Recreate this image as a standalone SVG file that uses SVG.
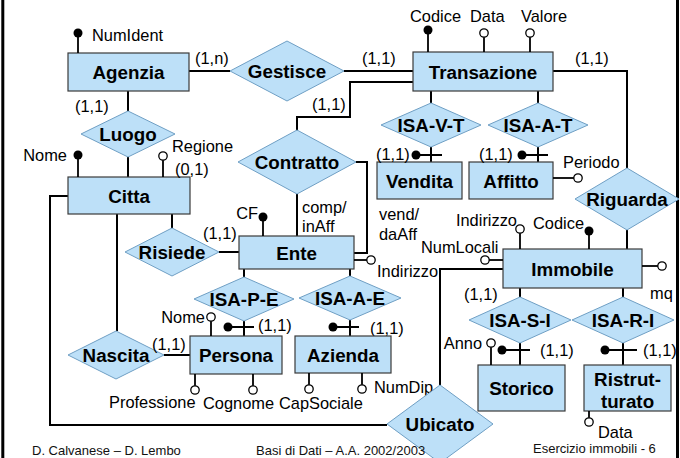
<svg xmlns="http://www.w3.org/2000/svg" width="680" height="458" viewBox="0 0 680 458">
<style>
.ent{fill:#bde0f8;stroke:#3a3a3a;stroke-width:1.2}
.rel{fill:#bde0f8;stroke:#6f9fc4;stroke-width:1}
.ln{fill:none;stroke:#000;stroke-width:2}
.al{fill:none;stroke:#000;stroke-width:1.8}
.fd{fill:#000}
.hd{fill:#fff;stroke:#000;stroke-width:1.3}
.b{font-family:"Liberation Sans",Arial,sans-serif;font-weight:bold;font-size:18.8px;text-anchor:middle;fill:#000}
.t{font-family:"Liberation Sans",Arial,sans-serif;font-size:16.4px;fill:#000}
.e{text-anchor:end}
.f{font-family:"Liberation Sans",Arial,sans-serif;font-size:13px;fill:#111}
</style>
<rect width="680" height="458" fill="#fff"/>
<line x1="2.8" y1="0" x2="2.8" y2="458" stroke="#000" stroke-width="3"/>
<line x1="677.5" y1="0" x2="677.5" y2="458" stroke="#000" stroke-width="3"/>

<g id="connectors">
<path class="ln" d="M189,71 H230"/>
<path class="ln" d="M344,71 H413"/>
<path class="ln" d="M413,82 H350 V117 H297 V131"/>
<path class="ln" d="M553,71 H627 V168"/>
<path class="ln" d="M627,230 V249"/>
<path class="ln" d="M128,91 V111"/>
<path class="ln" d="M128,157 V177"/>
<path class="ln" d="M172,214 V228"/>
<path class="ln" d="M117,214 V331"/>
<path class="ln" d="M68,196 H50 V425 H387"/>
<path class="ln" d="M219,252 H239"/>
<path class="ln" d="M297,194 V236"/>
<path class="ln" d="M356,162 H367 V253 H354"/>
<path class="ln" d="M440,385 V269 H503"/>
<path class="ln" d="M244,269 V277"/>
<path class="ln" d="M244,321 V336"/>
<path class="ln" d="M350,269 V276"/>
<path class="ln" d="M350,320 V336"/>
<path class="ln" d="M164,355 H190"/>
<path class="ln" d="M431,91 V103"/>
<path class="ln" d="M431,147 V162"/>
<path class="ln" d="M538,91 V103"/>
<path class="ln" d="M538,147 V162"/>
<path class="ln" d="M520,288 V297"/>
<path class="ln" d="M520,343 V365"/>
<path class="ln" d="M623,288 V297"/>
<path class="ln" d="M623,343 V365"/>
<path class="ln" d="M416,155 H442"/><circle class="fd" cx="416" cy="155" r="4.5"/>
<path class="ln" d="M522,155 H548"/><circle class="fd" cx="522" cy="155" r="4.5"/>
<path class="ln" d="M228,327 H254"/><circle class="fd" cx="228" cy="327" r="4.5"/>
<path class="ln" d="M333,327 H359"/><circle class="fd" cx="333" cy="327" r="4.5"/>
<path class="ln" d="M502,350 H530"/><circle class="fd" cx="502" cy="350" r="4.5"/>
<path class="ln" d="M605,350 H637"/><circle class="fd" cx="605" cy="350" r="4.5"/>
</g>

<g id="Agenzia">
<rect class="ent" x="68" y="53" width="121" height="38"/>
<text class="b" x="128.5" y="78.5">Agenzia</text>
<path class="al" d="M78,53 V34"/><circle class="fd" cx="78" cy="33" r="4.5"/>
<text class="t" x="92" y="41">NumIdent</text>
</g>

<g id="Transazione">
<rect class="ent" x="413" y="52" width="140" height="39"/>
<text class="b" x="483" y="78.5">Transazione</text>
<path class="al" d="M428,52 V31"/><circle class="fd" cx="428" cy="30" r="4.5"/>
<path class="al" d="M484,52 V37"/><circle class="hd" cx="484" cy="33" r="4.2"/>
<path class="al" d="M530,52 V37"/><circle class="hd" cx="530" cy="33" r="4.2"/>
<text class="t" x="410" y="22">Codice</text>
<text class="t" x="470" y="22">Data</text>
<text class="t" x="521" y="22">Valore</text>
</g>

<g id="Gestisce">
<polygon class="rel" points="230,71 287,41 344,71 287,101"/>
<text class="b" x="287" y="78">Gestisce</text>
<text class="t" x="195" y="64">(1,n)</text>
<text class="t" x="362" y="64">(1,1)</text>
</g>

<g id="Luogo">
<polygon class="rel" points="81,134 128,111 175,134 128,157"/>
<text class="b" x="128" y="141">Luogo</text>
<text class="t" x="75" y="112">(1,1)</text>
</g>

<g id="Citta">
<rect class="ent" x="68" y="177" width="122" height="37"/>
<text class="b" x="129" y="202.5">Citta</text>
<path class="al" d="M78,177 V156"/><circle class="fd" cx="78" cy="155" r="4.5"/>
<text class="t e" x="67" y="161">Nome</text>
<path class="al" d="M163,177 V160"/><circle class="hd" cx="163" cy="156" r="4.2"/>
<text class="t" x="172" y="152">Regione</text>
<text class="t" x="175" y="175">(0,1)</text>
</g>

<g id="Contratto">
<polygon class="rel" points="238,162 297,130 356,162 297,194"/>
<text class="b" x="297" y="169">Contratto</text>
<text class="t" x="312" y="110">(1,1)</text>
<text class="t" x="302" y="213">comp/</text>
<text class="t" x="302" y="232">inAff</text>
<text class="t" x="379" y="220">vend/</text>
<text class="t" x="379" y="240">daAff</text>
</g>

<g id="ISA-V-T">
<polygon class="rel" points="381,125 431,103 481,125 431,147"/>
<text class="b" x="431" y="132">ISA-V-T</text>
</g>

<g id="ISA-A-T">
<polygon class="rel" points="488,125 538,103 588,125 538,147"/>
<text class="b" x="538" y="132">ISA-A-T</text>
</g>

<g id="Vendita">
<rect class="ent" x="377" y="162" width="85" height="37"/>
<text class="b" x="419.5" y="187.5">Vendita</text>
<text class="t" x="376" y="160">(1,1)</text>
</g>

<g id="Affitto">
<rect class="ent" x="469" y="162" width="84" height="37"/>
<text class="b" x="511" y="187.5">Affitto</text>
<text class="t" x="479" y="160">(1,1)</text>
<path class="al" d="M553,178 H574"/><circle class="hd" cx="578" cy="178" r="4.2"/>
<text class="t" x="563" y="168">Periodo</text>
</g>

<g id="Riguarda">
<polygon class="rel" points="575,199 627,168 679,199 627,230"/>
<text class="b" x="627" y="206">Riguarda</text>
<text class="t" x="575" y="64">(1,1)</text>
</g>

<g id="Risiede">
<polygon class="rel" points="125,252 172,228 219,252 172,276"/>
<text class="b" x="172" y="259">Risiede</text>
<text class="t" x="203" y="239">(1,1)</text>
</g>

<g id="Ente">
<rect class="ent" x="239" y="236" width="115" height="33"/>
<text class="b" x="296.5" y="259.5">Ente</text>
<path class="al" d="M263,236 V218"/><circle class="fd" cx="263" cy="217" r="4.5"/>
<text class="t e" x="258" y="219">CF</text>
<path class="al" d="M354,260 H367"/><circle class="hd" cx="371" cy="260" r="4.2"/>
<text class="t" x="377" y="277">Indirizzo</text>
</g>

<g id="Immobile">
<rect class="ent" x="503" y="249" width="139" height="39"/>
<text class="b" x="572.5" y="275.5">Immobile</text>
<path class="al" d="M520,249 V233"/><circle class="hd" cx="520" cy="229" r="4.2"/>
<text class="t e" x="517" y="226">Indirizzo</text>
<path class="al" d="M589,249 V232"/><circle class="fd" cx="589" cy="231" r="4.5"/>
<text class="t" x="533" y="229">Codice</text>
<path class="al" d="M503,260 H489"/><circle class="hd" cx="485" cy="260" r="4.2"/>
<text class="t" x="421" y="253">NumLocali</text>
<path class="al" d="M642,266 H658"/><circle class="hd" cx="662" cy="266" r="4.2"/>
<text class="t" x="650" y="299">mq</text>
</g>

<g id="ISA-P-E">
<polygon class="rel" points="194,299 244,277 294,299 244,321"/>
<text class="b" x="244" y="306">ISA-P-E</text>
<text class="t" x="258" y="331">(1,1)</text>
</g>

<g id="ISA-A-E">
<polygon class="rel" points="299,298 350,276 401,298 350,320"/>
<text class="b" x="350" y="305">ISA-A-E</text>
<text class="t" x="370" y="334">(1,1)</text>
</g>

<g id="Nascita">
<polygon class="rel" points="68,355 116,331 164,355 116,379"/>
<text class="b" x="116" y="362">Nascita</text>
<text class="t" x="152" y="350">(1,1)</text>
</g>

<g id="Persona">
<rect class="ent" x="190" y="336" width="92" height="38"/>
<text class="b" x="236" y="361.5">Persona</text>
<path class="al" d="M211,336 V321"/><circle class="hd" cx="211" cy="317" r="4.2"/>
<text class="t e" x="205" y="323">Nome</text>
<path class="al" d="M195,374 V386"/><circle class="hd" cx="195" cy="390" r="4.2"/>
<path class="al" d="M253,374 V386"/><circle class="hd" cx="253" cy="390" r="4.2"/>
<text class="t" x="109" y="408">Professione</text>
<text class="t" x="203" y="409">Cognome</text>
</g>

<g id="Azienda">
<rect class="ent" x="295" y="336" width="96" height="37"/>
<text class="b" x="343" y="361.5">Azienda</text>
<path class="al" d="M309,373 V385"/><circle class="hd" cx="309" cy="389" r="4.2"/>
<path class="al" d="M362,373 V385"/><circle class="hd" cx="362" cy="389" r="4.2"/>
<text class="t" x="279" y="409">CapSociale</text>
<text class="t" x="374" y="393">NumDip</text>
</g>

<g id="ISA-S-I">
<polygon class="rel" points="469,320 520,297 571,320 520,343"/>
<text class="b" x="520" y="327">ISA-S-I</text>
<text class="t" x="464" y="300">(1,1)</text>
</g>

<g id="ISA-R-I">
<polygon class="rel" points="572,320 623,297 674,320 623,343"/>
<text class="b" x="623" y="327">ISA-R-I</text>
</g>

<g id="Storico">
<rect class="ent" x="478" y="365" width="87" height="46"/>
<text class="b" x="521.5" y="394.5">Storico</text>
<path class="al" d="M491,365 V347"/><circle class="hd" cx="491" cy="343" r="4.2"/>
<text class="t e" x="482" y="349">Anno</text>
<text class="t" x="540" y="356">(1,1)</text>
</g>

<g id="Ristrutturato">
<rect class="ent" x="584" y="365" width="87" height="46"/>
<text class="b" x="627.5" y="385.5">Ristrut-</text>
<text class="b" x="627.5" y="407.5">turato</text>
<path class="al" d="M589,411 V418"/><circle class="hd" cx="589" cy="422" r="4.2"/>
<text class="t" x="598" y="438">Data</text>
<text class="t" x="643" y="356">(1,1)</text>
</g>

<g id="Ubicato">
<polygon class="rel" points="387,424 440,385 493,424 440,463"/>
<text class="b" x="440" y="431">Ubicato</text>
</g>

<g id="footer">
<text class="f" x="32" y="455">D. Calvanese – D. Lembo</text>
<text class="f" x="256" y="455">Basi di Dati – A.A. 2002/2003</text>
<text class="f" x="533" y="453">Esercizio immobili - 6</text>
</g>
</svg>
